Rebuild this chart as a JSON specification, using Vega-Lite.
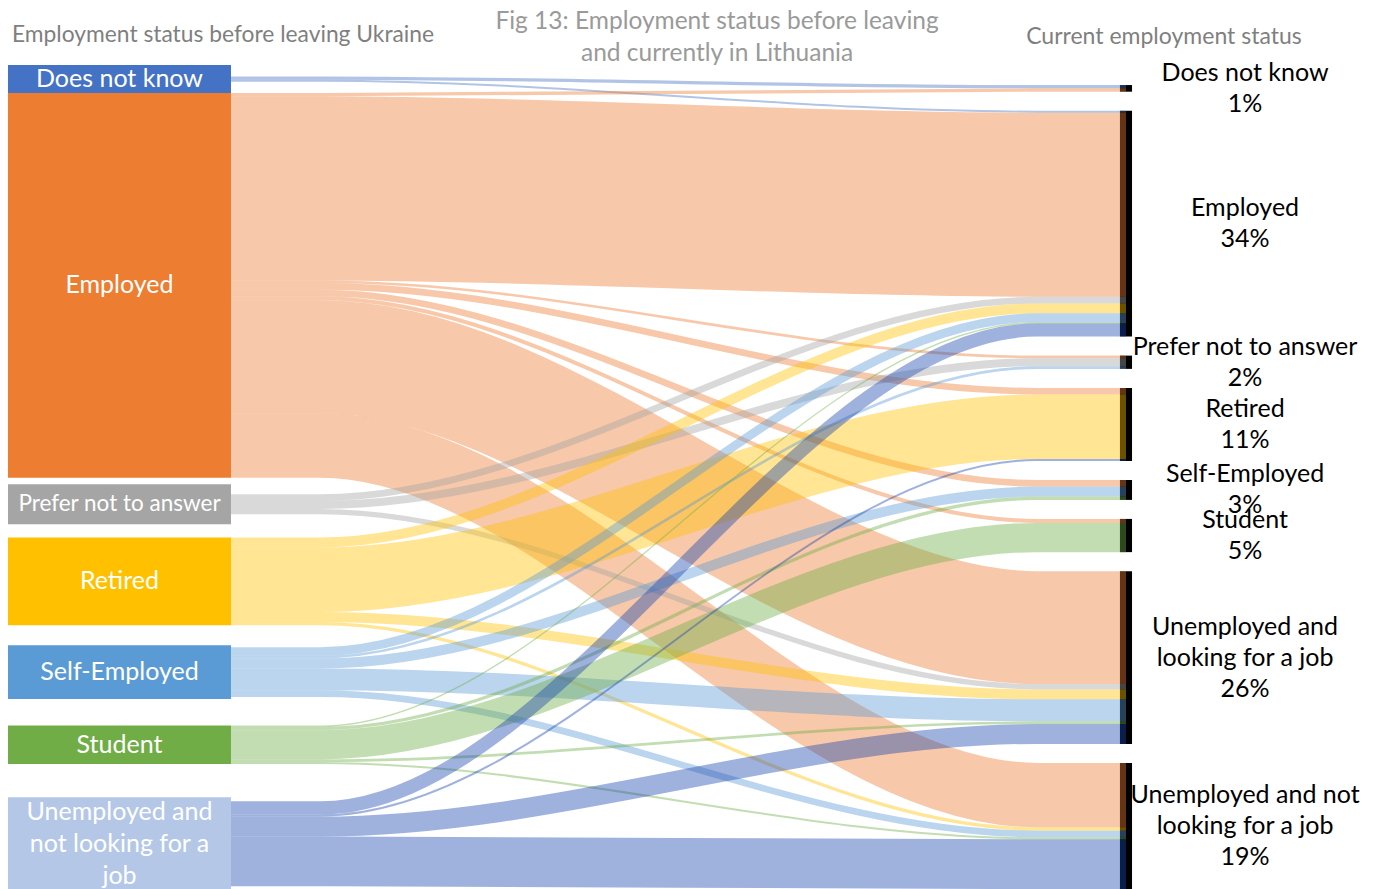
{
  "$schema": "https://vega.github.io/schema/vega-lite/v6.json",
  "width": 1375,
  "height": 889,
  "autosize": {"type": "none"},
  "padding": 0,
  "background": "white",
  "config": {"view": {"stroke": null}, "font": "Lato"},
  "datasets": {
    "before": [
      {"status": "Does not know", "label": "Does not know", "rank": 1, "share": 4.2},
      {"status": "Employed", "label": "Employed", "rank": 2, "share": 57.9},
      {"status": "Prefer not to answer", "label": "Prefer not to answer", "rank": 3, "share": 6.0},
      {"status": "Retired", "label": "Retired", "rank": 4, "share": 13.2},
      {"status": "Self-Employed", "label": "Self-Employed", "rank": 5, "share": 8.1},
      {"status": "Student", "label": "Student", "rank": 6, "share": 5.8},
      {"status": "Unemployed and not looking for a job", "label": "Unemployed and\nnot looking for a\njob", "rank": 7, "share": 14.0}
    ],
    "now": [
      {"status": "Does not know", "label": "Does not know", "rank": 1, "share": 1},
      {"status": "Employed", "label": "Employed", "rank": 2, "share": 34},
      {"status": "Prefer not to answer", "label": "Prefer not to answer", "rank": 3, "share": 2},
      {"status": "Retired", "label": "Retired", "rank": 4, "share": 11},
      {"status": "Self-Employed", "label": "Self-Employed", "rank": 5, "share": 3},
      {"status": "Student", "label": "Student", "rank": 6, "share": 5},
      {"status": "Unemployed and looking for a job", "label": "Unemployed and\nlooking for a job", "rank": 7, "share": 26},
      {"status": "Unemployed and not looking for a job", "label": "Unemployed and not\nlooking for a job", "rank": 8, "share": 19}
    ],
    "flows": [
      {"from": "Does not know", "to": "Does not know", "value": 0.5},
      {"from": "Does not know", "to": "Employed", "value": 0.3},
      {"from": "Employed", "to": "Does not know", "value": 0.5},
      {"from": "Employed", "to": "Employed", "value": 27.7},
      {"from": "Employed", "to": "Prefer not to answer", "value": 0.4},
      {"from": "Employed", "to": "Retired", "value": 1.0},
      {"from": "Employed", "to": "Self-Employed", "value": 1.0},
      {"from": "Employed", "to": "Student", "value": 0.6},
      {"from": "Employed", "to": "Unemployed and looking for a job", "value": 17.0},
      {"from": "Employed", "to": "Unemployed and not looking for a job", "value": 9.7},
      {"from": "Prefer not to answer", "to": "Employed", "value": 1.0},
      {"from": "Prefer not to answer", "to": "Prefer not to answer", "value": 1.2},
      {"from": "Prefer not to answer", "to": "Unemployed and looking for a job", "value": 0.8},
      {"from": "Retired", "to": "Employed", "value": 1.5},
      {"from": "Retired", "to": "Retired", "value": 9.7},
      {"from": "Retired", "to": "Unemployed and looking for a job", "value": 1.5},
      {"from": "Retired", "to": "Unemployed and not looking for a job", "value": 0.5},
      {"from": "Self-Employed", "to": "Employed", "value": 1.3},
      {"from": "Self-Employed", "to": "Prefer not to answer", "value": 0.4},
      {"from": "Self-Employed", "to": "Self-Employed", "value": 1.5},
      {"from": "Self-Employed", "to": "Unemployed and looking for a job", "value": 3.3},
      {"from": "Self-Employed", "to": "Unemployed and not looking for a job", "value": 1.0},
      {"from": "Student", "to": "Employed", "value": 0.2},
      {"from": "Student", "to": "Self-Employed", "value": 0.5},
      {"from": "Student", "to": "Student", "value": 4.4},
      {"from": "Student", "to": "Unemployed and looking for a job", "value": 0.4},
      {"from": "Student", "to": "Unemployed and not looking for a job", "value": 0.3},
      {"from": "Unemployed and not looking for a job", "to": "Employed", "value": 2.0},
      {"from": "Unemployed and not looking for a job", "to": "Retired", "value": 0.3},
      {"from": "Unemployed and not looking for a job", "to": "Unemployed and looking for a job", "value": 3.0},
      {"from": "Unemployed and not looking for a job", "to": "Unemployed and not looking for a job", "value": 7.5}
    ]
  },
  "layer": [
    {
      "data": {"name": "before"},
      "transform": [
        {"window": [{"op": "sum", "field": "share", "as": "through"}], "sort": [{"field": "rank"}], "frame": [null, 0]},
        {"calculate": "datum.through - datum.share + 0.5 * (datum.rank - 1) * (datum.rank - 2)", "as": "top"},
        {"calculate": "datum.top + datum.share", "as": "bottom"}
      ],
      "mark": {"type": "rect", "clip": true},
      "encoding": {
        "x": {"datum": 0.58, "type": "quantitative", "scale": {"domain": [0, 100], "nice": false, "zero": false}, "axis": null},
        "x2": {"datum": 16.8},
        "y": {"field": "top", "type": "quantitative", "scale": {"domain": [-9.8, 124], "reverse": true, "nice": false, "zero": false}, "axis": null},
        "y2": {"field": "bottom"},
        "fill": {
          "field": "status", "type": "nominal", "legend": null,
          "scale": {
            "domain": ["Does not know", "Employed", "Prefer not to answer", "Retired", "Self-Employed", "Student", "Unemployed and not looking for a job"],
            "range": ["#4472C4", "#ED7D31", "#A5A5A5", "#FFC000", "#5B9BD5", "#70AD47", "#B4C7E7"]
          }
        }
      }
    },
    {
      "data": {"name": "now"},
      "transform": [
        {"window": [{"op": "sum", "field": "share", "as": "through"}], "sort": [{"field": "rank"}], "frame": [null, 0]},
        {"calculate": "3 + 2.86 * (datum.rank - 1) + datum.through - datum.share", "as": "top"},
        {"calculate": "datum.top + datum.share", "as": "bottom"}
      ],
      "mark": {"type": "rect", "fill": "#000000", "clip": true},
      "encoding": {
        "x": {"datum": 81.45, "type": "quantitative"},
        "x2": {"datum": 82.33},
        "y": {"field": "top", "type": "quantitative"},
        "y2": {"field": "bottom"}
      }
    },
    {
      "data": {"name": "flows"},
      "transform": [
        {"lookup": "from", "from": {"data": {"name": "before"}, "key": "status", "fields": ["rank", "share"]}, "as": ["fromRank", "fromShare"]},
        {"lookup": "to", "from": {"data": {"name": "now"}, "key": "status", "fields": ["rank"]}, "as": ["toRank"]},
        {"window": [{"op": "sum", "field": "value", "as": "outThrough"}, {"op": "row_number", "as": "outIndex"}], "groupby": ["from"], "sort": [{"field": "toRank"}], "frame": [null, 0]},
        {"joinaggregate": [{"op": "sum", "field": "value", "as": "outTotal"}], "groupby": ["from"]},
        {"calculate": "datum.outIndex == 1 ? datum.fromShare : 0", "as": "nodeShareOnce"},
        {"window": [{"op": "sum", "field": "nodeShareOnce", "as": "shareThrough"}], "sort": [{"field": "fromRank"}, {"field": "toRank"}], "frame": [null, 0]},
        {"calculate": "datum.shareThrough - datum.fromShare + 0.5 * (datum.fromRank - 1) * (datum.fromRank - 2) + (datum.fromShare - datum.outTotal) / 2 + datum.outThrough - datum.value / 2", "as": "yBefore"},
        {"window": [{"op": "sum", "field": "value", "as": "inThrough"}], "sort": [{"field": "toRank"}, {"field": "fromRank"}], "frame": [null, 0]},
        {"calculate": "3 + 2.86 * (datum.toRank - 1) + datum.inThrough - datum.value / 2", "as": "yNow"},
        {"calculate": "[16.8, 23.3, 75.4, 81.89]", "as": "px"},
        {"calculate": "[datum.yBefore, datum.yBefore, datum.yNow, datum.yNow]", "as": "py"},
        {"flatten": ["px", "py"]}
      ],
      "mark": {"type": "line", "interpolate": "monotone", "opacity": 0.42, "strokeCap": "butt", "clip": true},
      "encoding": {
        "x": {"field": "px", "type": "quantitative"},
        "y": {"field": "py", "type": "quantitative"},
        "detail": [{"field": "from", "type": "nominal"}, {"field": "to", "type": "nominal"}],
        "order": {"field": "px", "type": "quantitative"},
        "stroke": {
          "field": "from", "type": "nominal", "legend": null,
          "scale": {
            "domain": ["Does not know", "Employed", "Prefer not to answer", "Retired", "Self-Employed", "Student", "Unemployed and not looking for a job"],
            "range": ["#4472C4", "#ED7D31", "#A5A5A5", "#FFC000", "#5B9BD5", "#70AD47", "#1A45AE"]
          }
        },
        "strokeWidth": {"field": "value", "type": "quantitative", "legend": null, "scale": {"domain": [0, 133.8], "range": [0, 889], "zero": true}}
      }
    },
    {
      "data": {"name": "before"},
      "transform": [
        {"window": [{"op": "sum", "field": "share", "as": "through"}], "sort": [{"field": "rank"}], "frame": [null, 0]},
        {"calculate": "datum.through - datum.share / 2 + 0.5 * (datum.rank - 1) * (datum.rank - 2)", "as": "mid"},
        {"calculate": "datum.mid - (length(split(datum.label, '\\n')) - 1) * 2.41", "as": "firstLine"}
      ],
      "mark": {"type": "text", "color": "white", "lineBreak": "\n", "lineHeight": 32, "align": "center", "baseline": "middle"},
      "encoding": {
        "x": {"datum": 8.69, "type": "quantitative"},
        "y": {"field": "firstLine", "type": "quantitative"},
        "text": {"field": "label", "type": "nominal"},
        "size": {"condition": {"test": "length(datum.label) > 18 && indexof(datum.label, '\\n') < 0", "value": 22.5}, "value": 25}
      }
    },
    {
      "data": {"name": "now"},
      "transform": [
        {"window": [{"op": "sum", "field": "share", "as": "through"}], "sort": [{"field": "rank"}], "frame": [null, 0]},
        {"calculate": "3 + 2.86 * (datum.rank - 1) + datum.through - datum.share / 2", "as": "mid"},
        {"calculate": "datum.label + '\\n' + datum.share + '%'", "as": "caption"},
        {"calculate": "datum.mid - (length(split(datum.caption, '\\n')) - 1) * 2.33", "as": "firstLine"}
      ],
      "mark": {"type": "text", "color": "#000000", "fontSize": 25, "lineBreak": "\n", "lineHeight": 31, "align": "center", "baseline": "middle"},
      "encoding": {
        "x": {"datum": 90.55, "type": "quantitative"},
        "y": {"field": "firstLine", "type": "quantitative"},
        "text": {"field": "caption", "type": "nominal"}
      }
    },
    {
      "data": {"values": [{}]},
      "mark": {"type": "text", "text": "Employment status before leaving Ukraine", "color": "#7F7F7F", "fontSize": 22.8, "align": "left", "baseline": "middle"},
      "encoding": {
        "x": {"datum": 0.87, "type": "quantitative"},
        "y": {"datum": -4.53, "type": "quantitative"}
      }
    },
    {
      "data": {"values": [{}]},
      "mark": {"type": "text", "text": ["Fig 13: Employment status before leaving", "and currently in Lithuania"], "color": "#9A9A9A", "fontSize": 24.5, "lineHeight": 32, "align": "center", "baseline": "middle"},
      "encoding": {
        "x": {"datum": 52.15, "type": "quantitative"},
        "y": {"datum": -6.49, "type": "quantitative"}
      }
    },
    {
      "data": {"values": [{}]},
      "mark": {"type": "text", "text": "Current employment status", "color": "#7F7F7F", "fontSize": 23, "align": "center", "baseline": "middle"},
      "encoding": {
        "x": {"datum": 84.65, "type": "quantitative"},
        "y": {"datum": -4.23, "type": "quantitative"}
      }
    }
  ]
}
